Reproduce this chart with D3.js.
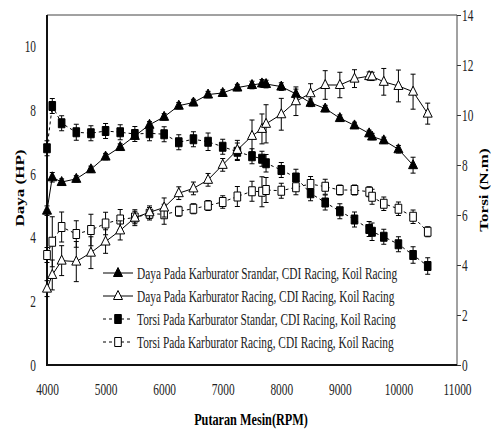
<!DOCTYPE html>
<html>
<head>
<meta charset="utf-8">
<script src="https://cdn.jsdelivr.net/npm/d3@7"></script>
<style>
  body { margin: 0; background: #fff; }
  svg { display: block; }
  svg text { font-family: "Liberation Serif", "DejaVu Serif", serif; }
</style>
</head>
<body>
<script>
// --- Data ---
const rpm = [4000, 4090, 4250, 4500, 4750, 5000, 5250, 5500, 5750, 6000,
             6250, 6500, 6750, 7000, 7250, 7500, 7670, 7740, 8000, 8250,
             8500, 8750, 9000, 9250, 9500, 9550, 9750, 10000, 10250, 10500];

// Daya (HP), left axis
const dayaStandar = [4.85, 5.9, 5.75, 5.85, 6.15, 6.55, 6.85, 7.2, 7.55, 7.8,
                     8.15, 8.25, 8.5, 8.55, 8.72, 8.8, 8.85, 8.83, 8.75, 8.52,
                     8.24, 8.06, 7.76, 7.53, 7.28, 7.18, 7.06, 6.78, 6.28, null];
const errDayaStandar = [0.15, 0.15, 0.1, 0.1, 0.1, 0.1, 0.1, 0.1, 0.1, 0.1,
                        0.1, 0.1, 0.1, 0.1, 0.1, 0.12, 0.12, 0.12, 0.12, 0.15,
                        0.12, 0.1, 0.1, 0.1, 0.1, 0.1, 0.1, 0.12, 0.25, null];
const dayaRacing = [2.4, 2.83, 3.28, 3.25, 3.53, 3.88, 4.23, 4.63, 4.8, 4.95,
                    5.4, 5.55, 5.82, 6.29, 6.76, 7.2, 7.42, 7.58, 7.88, 8.29,
                    8.54, 8.8, 8.8, 9.0, 9.08, 9.07, 8.9, 8.77, 8.59, 7.9];
const errDayaRacing = [0.25, 0.47, 0.47, 0.63, 0.5, 0.37, 0.3, 0.25, 0.2, 0.3,
                       0.2, 0.2, 0.2, 0.2, 0.3, 0.5, 0.47, 0.6, 0.5, 0.45,
                       0.3, 0.45, 0.4, 0.28, 0.13, 0.13, 0.42, 0.5, 0.55, 0.33];

// Torsi (N.m), right axis
const torsiStandar = [8.67, 10.36, 9.67, 9.31, 9.27, 9.36, 9.31, 9.24, 9.27, 9.23,
                      8.91, 9.03, 8.93, 8.73, 8.53, 8.35, 8.25, 8.07, 7.8, 7.5,
                      6.87, 6.5, 6.15, 5.82, 5.44, 5.33, 5.13, 4.83, 4.4, 3.96];
const errTorsiStandar = [0.3, 0.3, 0.3, 0.32, 0.3, 0.3, 0.3, 0.3, 0.3, 0.3,
                         0.3, 0.3, 0.35, 0.3, 0.35, 0.3, 0.3, 0.35, 0.3, 0.33,
                         0.3, 0.3, 0.3, 0.3, 0.3, 0.35, 0.3, 0.3, 0.33, 0.33];
const torsiRacing = [4.4, 4.93, 5.52, 5.24, 5.4, 5.66, 5.82, 5.9, 6.05, 6.03,
                     6.15, 6.25, 6.38, 6.52, 6.74, 6.95, 6.93, 7.0, 6.97, 7.11,
                     7.24, 7.13, 7.0, 7.0, 6.93, 6.73, 6.45, 6.25, 5.93, 5.33];
const errTorsiRacing = [0.3, 1.0, 0.6, 0.53, 0.63, 0.45, 0.4, 0.25, 0.25, 0.4,
                        0.2, 0.2, 0.2, 0.25, 0.4, 0.4, 0.6, 0.5, 0.3, 0.3,
                        0.3, 0.3, 0.2, 0.2, 0.2, 0.3, 0.27, 0.27, 0.27, 0.2];

const legendLabels = [
  "Daya Pada Karburator Srandar, CDI Racing, Koil Racing",
  "Daya Pada Karburator Racing, CDI Racing, Koil Racing",
  "Torsi Pada Karburator Standar, CDI Racing, Koil Racing",
  "Torsi Pada Karburator Racing, CDI Racing, Koil Racing"
];
const xTicks = [4000, 5000, 6000, 7000, 8000, 9000, 10000, 11000];
const dayaTicks = [0, 2, 4, 6, 8, 10];
const torsiTicks = [0, 2, 4, 6, 8, 10, 12, 14];

function createChart() {
  // --- Layout ---
  const width = 491, height = 430;
  const left = 47, right = 457, top = 15, bottom = 365;
  const font = "Liberation Serif, DejaVu Serif, serif";
  // the original picture is squeezed horizontally, so glyphs are narrow
  const squeeze = 0.71;

  // --- Scales ---
  const x = d3.scaleLinear().domain([4000, 11000]).range([left, right]);
  const yDaya = d3.scaleLinear().domain([0, 11]).range([bottom, top]);
  const yTorsi = d3.scaleLinear().domain([0, 14]).range([bottom, top]);

  const svg = d3.create("svg")
    .attr("width", width)
    .attr("height", height)
    .attr("viewBox", `0 0 ${width} ${height}`)
    .attr("font-family", font);

  // --- Axes (labels only, the frame is drawn by hand) ---
  const squeezeText = (g) => {
    g.attr("font-family", font).attr("font-size", 16);
    g.selectAll("text")
      .attr("transform", `scale(${squeeze},1)`)
      .attr("fill", "#222");
  };

  svg.append("g")
    .attr("transform", `translate(0,${bottom})`)
    .call(d3.axisBottom(x).tickValues(xTicks).tickFormat(d3.format("d"))
      .tickSize(0).tickPadding(19))
    .call((g) => g.select(".domain").remove())
    .call(squeezeText);

  svg.append("g")
    .attr("transform", `translate(${left},0)`)
    .call(d3.axisLeft(yDaya).tickValues(dayaTicks).tickSize(0).tickPadding(15.5))
    .call((g) => g.select(".domain").remove())
    .call(squeezeText);

  svg.append("g")
    .attr("transform", `translate(${right},0)`)
    .call(d3.axisRight(yTorsi).tickValues(torsiTicks).tickSizeInner(4).tickPadding(3))
    .call((g) => g.select(".domain").remove())
    .call((g) => g.selectAll("line").attr("stroke", "#333"))
    .call(squeezeText);

  // --- Frame ---
  svg.append("path")
    .attr("d", `M${left},${top}H${right}V${bottom}`)
    .attr("fill", "none").attr("stroke", "#444").attr("stroke-width", 1);
  svg.append("path")
    .attr("d", `M${left},${top}V${bottom}H${right}`)
    .attr("fill", "none").attr("stroke", "#111").attr("stroke-width", 2);

  // --- Series definitions ---
  const series = [
    { values: torsiStandar, err: errTorsiStandar, y: yTorsi, dash: "3,3", shape: "square", fill: "#000" },
    { values: torsiRacing, err: errTorsiRacing, y: yTorsi, dash: "3,3", shape: "square", fill: "#fff" },
    { values: dayaStandar, err: errDayaStandar, y: yDaya, dash: null, shape: "triangle", fill: "#000" },
    { values: dayaRacing, err: errDayaRacing, y: yDaya, dash: null, shape: "triangle", fill: "#fff" }
  ];

  // marker shapes, narrow like the squeezed original
  const shapePath = {
    triangle: "M0,-5.5L4.5,3.5L-4.5,3.5Z",
    square: "M-3.3,-4.5H3.3V4.5H-3.3Z"
  };

  const plot = svg.append("g");

  series.forEach((s) => {
    const pts = rpm.map((r, i) => ({ r, v: s.values[i], e: s.err[i] }))
      .filter((d) => d.v != null);

    const line = d3.line().x((d) => x(d.r)).y((d) => s.y(d.v));
    plot.append("path")
      .datum(pts)
      .attr("d", line)
      .attr("fill", "none")
      .attr("stroke", "#000")
      .attr("stroke-width", 1)
      .attr("stroke-dasharray", s.dash);

    // error bars
    const bars = plot.append("g").attr("stroke", "#000").attr("stroke-width", 1);
    bars.selectAll("path")
      .data(pts)
      .join("path")
      .attr("fill", "none")
      .attr("d", (d) => {
        const cx = x(d.r), y0 = s.y(d.v - d.e), y1 = s.y(d.v + d.e);
        return `M${cx},${y0}V${y1}M${cx - 2.5},${y1}H${cx + 2.5}M${cx - 2.5},${y0}H${cx + 2.5}`;
      });

    // markers
    plot.append("g")
      .selectAll("path")
      .data(pts)
      .join("path")
      .attr("transform", (d) => `translate(${x(d.r)},${s.y(d.v)})`)
      .attr("d", shapePath[s.shape])
      .attr("fill", s.fill)
      .attr("stroke", "#000")
      .attr("stroke-width", 1);
  });

  // --- Legend ---
  const legendOrder = [series[2], series[3], series[0], series[1]];
  const legend = svg.append("g");
  legendOrder.forEach((s, i) => {
    const cy = 273 + i * 23;
    legend.append("line")
      .attr("x1", 103).attr("x2", 133)
      .attr("y1", cy).attr("y2", cy)
      .attr("stroke", "#000").attr("stroke-width", 1)
      .attr("stroke-dasharray", s.dash);
    legend.append("path")
      .attr("transform", `translate(118,${cy})`)
      .attr("d", shapePath[s.shape])
      .attr("fill", s.fill)
      .attr("stroke", "#000");
    legend.append("text")
      .attr("transform", `translate(137,${cy + 5.5}) scale(${squeeze},1)`)
      .attr("font-family", font)
      .attr("font-size", 16)
      .attr("fill", "#222")
      .text(legendLabels[i]);
  });

  // --- Axis titles ---
  svg.append("text")
    .attr("transform", `translate(251,425) scale(0.72,1)`)
    .attr("text-anchor", "middle")
    .attr("font-family", font)
    .attr("font-size", 17)
    .attr("font-weight", "bold")
    .text("Putaran Mesin(RPM)");

  svg.append("text")
    .attr("transform", `translate(20,188) rotate(-90) scale(1,0.7)`)
    .attr("text-anchor", "middle")
    .attr("dy", "0.35em")
    .attr("font-family", font)
    .attr("font-size", 17)
    .attr("font-weight", "bold")
    .text("Daya (HP)");

  svg.append("text")
    .attr("transform", `translate(484,190) rotate(-90) scale(1,0.7)`)
    .attr("text-anchor", "middle")
    .attr("dy", "0.35em")
    .attr("font-family", font)
    .attr("font-size", 17)
    .attr("font-weight", "bold")
    .text("Torsi (N.m)");

  return svg.node();
}

document.body.appendChild(createChart());
</script>
</body>
</html>
